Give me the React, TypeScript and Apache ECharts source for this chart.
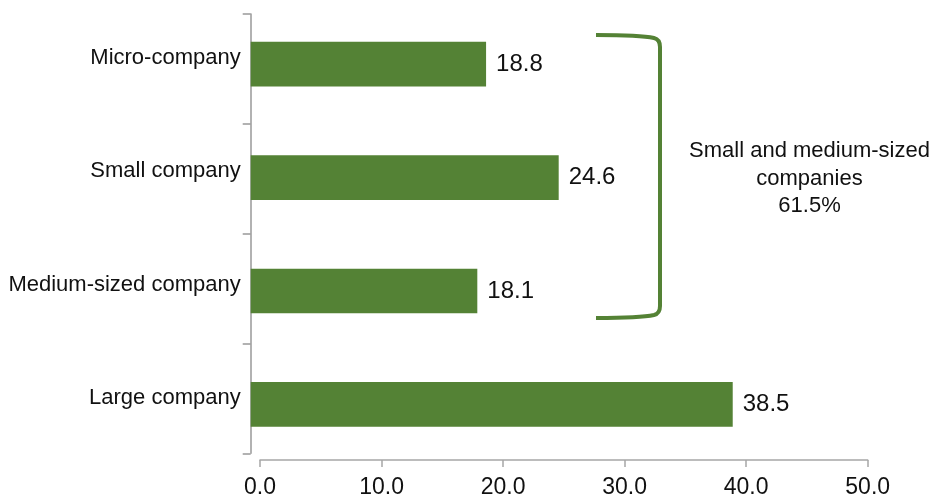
import React, { useEffect, useRef } from "react";
import * as echarts from "echarts";

const categories = ["Micro-company", "Small company", "Medium-sized company", "Large company"];
const shares = [18.8, 24.6, 18.1, 38.5];
const xTicks = [0, 10, 20, 30, 40, 50];
const bracketLines = ["Small and medium-sized", "companies", "61.5%"];

const GREEN = "#548235";
const FONT = "Liberation Sans, Arial, sans-serif";

const bracketPath =
  "M596,35 C620,35 645,36 654,38 Q660,39.5 660,47 L660,306 Q660,313.5 654,315 C645,317 620,318 596,318";

let registered = false;
function ensureShape() {
  if (registered) return;
  echarts.graphic.registerShape("bracket", echarts.graphic.extendPath(bracketPath, {}) as any);
  registered = true;
}

export default function App() {
  const ref = useRef<HTMLDivElement>(null);
  useEffect(() => {
    if (!ref.current) return;
    ensureShape();
    const chart = echarts.init(ref.current, undefined, { renderer: "svg" });
    const xMin = xTicks[0];
    const xMax = xTicks[xTicks.length - 1];
    chart.setOption({
      animation: false,
      textStyle: { fontFamily: FONT },
      grid: [
        { left: 250.7, top: 7.5, height: 453.6, width: 626, containLabel: false },
        { left: 250.7, top: 14, height: 439.3, width: 600, containLabel: false },
        { left: 260, right: 68.3, bottom: 36.3, top: 420, containLabel: false },
      ],
      xAxis: [
        { gridIndex: 0, type: "value", min: xMin, max: xMax, show: false },
        { gridIndex: 1, type: "value", min: 0, max: 1, show: false },
        {
          gridIndex: 2,
          type: "value",
          min: xMin,
          max: xMax,
          interval: 10,
          axisLine: { show: true, lineStyle: { color: "#a6a6a6", width: 1.5 } },
          axisTick: { show: true, length: 7, lineStyle: { color: "#a6a6a6", width: 1.5 } },
          splitLine: { show: false },
          axisLabel: {
            fontSize: 23,
            color: "#111",
            fontFamily: FONT,
            margin: 14,
            formatter: (v: number) => v.toFixed(1),
          },
        },
      ],
      yAxis: [
        {
          gridIndex: 0,
          type: "category",
          inverse: true,
          data: categories,
          axisLine: { show: false },
          axisTick: { show: false },
          axisLabel: {
            fontSize: 22,
            color: "#111",
            fontFamily: FONT,
            margin: 10,
            verticalAlign: "bottom",
            lineHeight: 16,
          },
        },
        {
          gridIndex: 1,
          type: "category",
          inverse: true,
          data: categories.map(() => ""),
          axisLine: { show: true, lineStyle: { color: "#999", width: 1.5 } },
          axisTick: { show: true, length: 8, lineStyle: { color: "#999", width: 1.5 } },
          axisLabel: { show: false },
        },
        { gridIndex: 2, type: "value", show: false },
      ],
      series: [
        {
          type: "bar",
          xAxisIndex: 0,
          yAxisIndex: 0,
          data: shares,
          barCategoryGap: "60.6%",
          itemStyle: { color: GREEN },
          label: {
            show: true,
            position: "right",
            distance: 10,
            offset: [0, -2],
            fontSize: 24,
            color: "#111",
            fontFamily: FONT,
            formatter: (p: any) => Number(p.value).toFixed(1),
          },
        },
      ],
      graphic: [
        {
          type: "bracket",
          x: 0,
          y: 0,
          style: { fill: "none", stroke: GREEN, lineWidth: 4 },
        },
        {
          type: "text",
          x: 809.5,
          y: 177,
          style: {
            text: bracketLines.join("\n"),
            fontSize: 22,
            lineHeight: 27.5,
            fill: "#111",
            fontFamily: FONT,
            align: "center",
            verticalAlign: "middle",
          },
        },
      ],
    });
    return () => chart.dispose();
  }, []);
  return <div ref={ref} style={{ width: 936, height: 497, position: "fixed", left: 0, top: 0 }} />;
}
